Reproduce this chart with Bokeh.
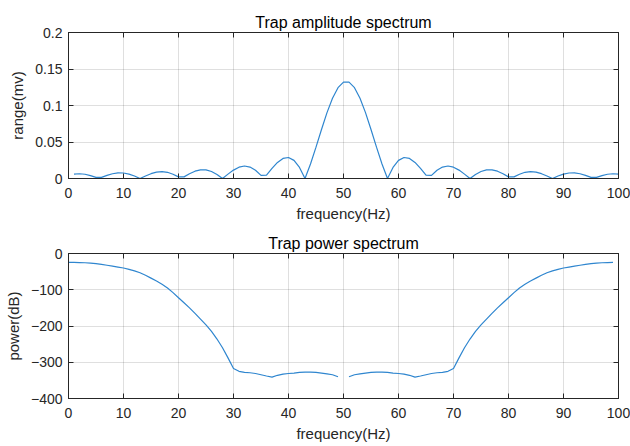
from bokeh.plotting import figure
from bokeh.layouts import column
from bokeh.models import FixedTicker, LinearAxis, Range1d, NumeralTickFormatter
from bokeh.embed import file_html
from bokeh.resources import INLINE

nan = float("nan")

# ---- data ----
amp_freq = list(range(1, 101))
amp_values = [
    0.0061, 0.0065, 0.0058, 0.0040, 0.0015, 0.0015, 0.0043, 0.0065, 0.0076, 0.0075,
    0.0060, 0.0034, 0.0000, 0.0035, 0.0066, 0.0088, 0.0094, 0.0085, 0.0059, 0.0022,
    0.0022, 0.0065, 0.0100, 0.0119, 0.0118, 0.0096, 0.0055, 0.0000, 0.0060, 0.0115,
    0.0155, 0.0171, 0.0157, 0.0113, 0.0043, 0.0046, 0.0138, 0.0220, 0.0275, 0.0288,
    0.0248, 0.0152, 0.0000, 0.0199, 0.0429, 0.0671, 0.0902, 0.1100, 0.1244, 0.1320,
    0.1320, 0.1244, 0.1100, 0.0902, 0.0671, 0.0429, 0.0199, 0.0000, 0.0152, 0.0248,
    0.0288, 0.0275, 0.0220, 0.0138, 0.0046, 0.0043, 0.0113, 0.0157, 0.0171, 0.0155,
    0.0115, 0.0060, 0.0000, 0.0055, 0.0096, 0.0118, 0.0119, 0.0100, 0.0065, 0.0022,
    0.0022, 0.0059, 0.0085, 0.0094, 0.0088, 0.0066, 0.0035, 0.0000, 0.0034, 0.0060,
    0.0075, 0.0076, 0.0065, 0.0043, 0.0015, 0.0015, 0.0040, 0.0058, 0.0065, 0.0061,
]

pow_freq = list(range(0, 100))
pow_values = [
    -24.5, -24.6, -25.0, -25.5, -26.5, -28.0, -30.0, -32.5, -35.0, -37.5,
    -40.0, -44.0, -48.0, -53.0, -60.0, -68.0, -76.0, -85.0, -95.0, -108.0,
    -122.0, -136.0, -150.0, -165.0, -181.0, -197.0, -215.0, -236.0, -260.0, -288.0,
    -317.0, -325.0, -328.0, -329.0, -331.0, -334.5, -338.0, -341.0, -336.0, -333.0,
    -331.0, -330.0, -328.0, -327.0, -327.0, -328.0, -330.0, -332.0, -334.5, -340.0,
    nan,
    -340.0, -334.5, -332.0, -330.0, -328.0, -327.0, -327.0, -328.0, -330.0, -331.0,
    -333.0, -336.0, -341.0, -338.0, -334.5, -331.0, -329.0, -328.0, -325.0, -317.0,
    -288.0, -260.0, -236.0, -215.0, -197.0, -181.0, -165.0, -150.0, -136.0, -122.0,
    -108.0, -95.0, -85.0, -76.0, -68.0, -60.0, -53.0, -48.0, -44.0, -40.0,
    -37.5, -35.0, -32.5, -30.0, -28.0, -26.5, -25.5, -25.0, -24.6,
]

x_ticks = [0, 10, 20, 30, 40, 50, 60, 70, 80, 90, 100]
amp_ticks = [0, 0.05, 0.1, 0.15, 0.2]
pow_ticks = [-400, -300, -200, -100, 0]

FONT = "Liberation Sans"
AX = "#262626"
LINE = "#2f86cf"


def style(p, yticks):
    p.title.align = "center"
    p.title.text_font = FONT
    p.title.text_font_size = "16px"
    p.title.text_font_style = "normal"
    p.title.text_color = "#000000"
    p.title.standoff = 3
    p.outline_line_color = AX
    p.outline_line_width = 1
    p.outline_line_alpha = 1
    p.xaxis.ticker = FixedTicker(ticks=x_ticks)
    p.yaxis.ticker = FixedTicker(ticks=yticks)
    for ax in p.xaxis + p.yaxis:
        ax.major_tick_in = 5
        ax.major_tick_out = 0
        ax.minor_tick_line_color = None
        ax.axis_line_color = AX
        ax.major_tick_line_color = AX
        ax.major_label_text_font = FONT
        ax.major_label_text_font_size = "14px"
        ax.major_label_text_color = AX
        ax.axis_label_text_font = FONT
        ax.axis_label_text_font_size = "15px"
        ax.axis_label_text_font_style = "normal"
        ax.axis_label_text_color = AX
    p.xaxis.major_label_standoff = 9
    p.yaxis.major_label_standoff = 6
    p.xaxis.axis_label_standoff = 4
    p.yaxis.axis_label_standoff = 6
    p.grid.grid_line_color = AX
    p.grid.grid_line_alpha = 0.15
    # mirrored tick marks on the right and top edges (box on)
    r = LinearAxis(ticker=FixedTicker(ticks=yticks), major_label_text_font_size="1px",
                   major_label_text_color=None,
                   major_tick_in=5, major_tick_out=0, minor_tick_line_color=None,
                   axis_line_color=AX, major_tick_line_color=AX, major_label_standoff=0)
    t = LinearAxis(ticker=FixedTicker(ticks=x_ticks), major_label_text_font_size="1px",
                   major_label_text_color=None,
                   major_tick_in=5, major_tick_out=0, minor_tick_line_color=None,
                   axis_line_color=AX, major_tick_line_color=AX, major_label_standoff=0)
    p.add_layout(r, "right")
    p.add_layout(t, "above")


p1 = figure(width=630, height=228, output_backend="svg", toolbar_location=None,
            title="Trap amplitude spectrum",
            x_range=Range1d(0, 100), y_range=Range1d(0, 0.2),
            x_axis_label="frequency(Hz)", y_axis_label="range(mv)",
            min_border_left=68, min_border_right=12, min_border_top=32, min_border_bottom=50)
p1.line(amp_freq, amp_values, line_color=LINE, line_width=1.2)
style(p1, amp_ticks)
p1.yaxis[0].formatter = NumeralTickFormatter(format="0.[00]")

p2 = figure(width=630, height=218, output_backend="svg", toolbar_location=None,
            title="Trap power spectrum",
            x_range=Range1d(0, 100), y_range=Range1d(-400, 0),
            x_axis_label="frequency(Hz)", y_axis_label="power(dB)",
            min_border_left=68, min_border_right=12, min_border_top=25, min_border_bottom=48)
p2.line(pow_freq, pow_values, line_color=LINE, line_width=1.2)
style(p2, pow_ticks)

layout = column(p1, p2, spacing=0)
open("out.html", "w").write(file_html(layout, INLINE))
